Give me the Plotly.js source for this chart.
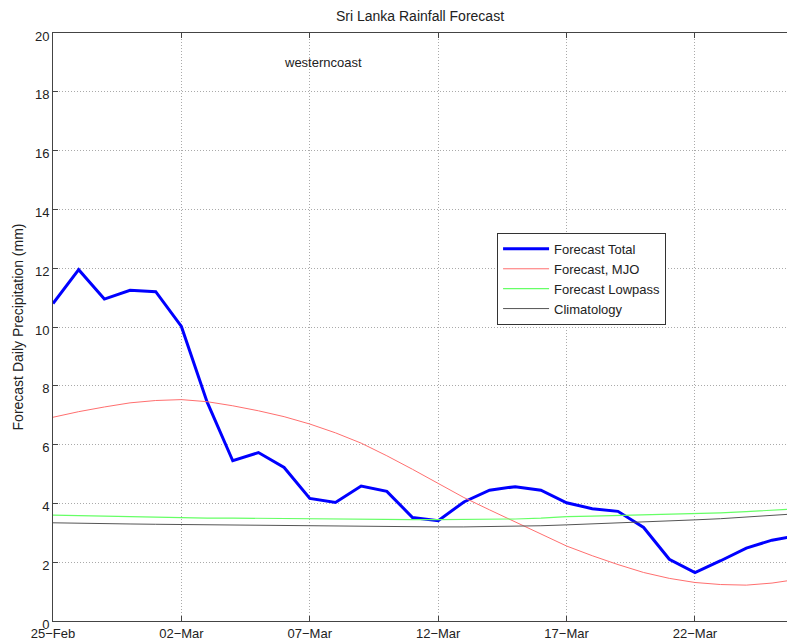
<!DOCTYPE html>
<html>
<head>
<meta charset="utf-8">
<script src="https://cdn.plot.ly/plotly-3.0.1.min.js"></script>
<style>html,body{margin:0;padding:0;background:#fff;}#chart{width:787px;height:640px;}</style>
</head>
<body>
<div id="chart"></div>
<script>
const dates = ['2013-02-25','2013-02-26','2013-02-27','2013-02-28','2013-03-01','2013-03-02','2013-03-03','2013-03-04','2013-03-05','2013-03-06',
  '2013-03-07','2013-03-08','2013-03-09','2013-03-10','2013-03-11','2013-03-12','2013-03-13','2013-03-14','2013-03-15','2013-03-16',
  '2013-03-17','2013-03-18','2013-03-19','2013-03-20','2013-03-21','2013-03-22','2013-03-23','2013-03-24','2013-03-25','2013-03-26'];
const forecastTotal = [10.8,11.95,10.95,11.25,11.2,10.02,7.45,5.45,5.73,5.22,
  4.17,4.03,4.59,4.41,3.52,3.41,4.05,4.45,4.57,4.45,
  4.02,3.82,3.73,3.18,2.1,1.65,2.05,2.48,2.75,2.9];
const forecastMJO = [6.93,7.12,7.28,7.42,7.5,7.53,7.46,7.32,7.15,6.95,
  6.7,6.4,6.05,5.62,5.16,4.68,4.2,3.78,3.37,2.95,
  2.55,2.22,1.92,1.65,1.45,1.31,1.24,1.22,1.29,1.42];
const forecastLowpass = [3.6,3.58,3.56,3.54,3.52,3.51,3.5,3.5,3.49,3.48,
  3.48,3.47,3.46,3.46,3.45,3.45,3.45,3.46,3.47,3.5,
  3.55,3.57,3.59,3.61,3.63,3.65,3.68,3.72,3.77,3.82];
const climatology = [3.34,3.32,3.31,3.3,3.29,3.28,3.27,3.26,3.25,3.24,
  3.23,3.22,3.21,3.21,3.2,3.2,3.2,3.21,3.22,3.24,
  3.27,3.3,3.33,3.36,3.4,3.44,3.48,3.53,3.59,3.65];
const xTickVals = ['2013-02-25','2013-03-02','2013-03-07','2013-03-12','2013-03-17','2013-03-22'];
const xTickText = ['25\u2212Feb','02\u2212Mar','07\u2212Mar','12\u2212Mar','17\u2212Mar','22\u2212Mar'];

const FONT = 'Liberation Sans, Arial, Helvetica, sans-serif';
const traces = [
  {x: dates, y: forecastTotal, name: 'Forecast Total', mode: 'lines', line: {color: '#0000ff', width: 3}},
  {x: dates, y: forecastMJO, name: 'Forecast, MJO', mode: 'lines', line: {color: '#ff6f6f', width: 1}},
  {x: dates, y: forecastLowpass, name: 'Forecast Lowpass', mode: 'lines', line: {color: '#66ff66', width: 1.2}},
  {x: dates, y: climatology, name: 'Climatology', mode: 'lines', line: {color: '#555555', width: 1}}
];
const layout = {
  width: 787, height: 640,
  margin: {l: 53, r: 0, t: 33, b: 19},
  paper_bgcolor: '#fff', plot_bgcolor: '#fff',
  font: {family: FONT, size: 13, color: '#222'},
  title: {text: 'Sri Lanka Rainfall Forecast', font: {family: FONT, size: 14, color: '#222'},
    xref: 'paper', x: 0.5, xanchor: 'center', yref: 'container', y: 0.975, yanchor: 'middle'},
  showlegend: true,
  legend: {x: 0.605, y: 0.66, xanchor: 'left', yanchor: 'top', bgcolor: '#fff', itemwidth: 46,
    bordercolor: '#333', borderwidth: 1, font: {family: FONT, size: 13, color: '#222'}, tracegroupgap: 0},
  xaxis: {type: 'date', range: ['2013-02-25', '2013-03-25 14:00'], tickmode: 'array',
    tickvals: xTickVals, ticktext: xTickText, ticks: 'inside', ticklen: 5, tickcolor: '#444',
    showgrid: true, gridcolor: '#aaaaaa', griddash: '1px,2px', gridwidth: 1,
    showline: true, linecolor: '#444', linewidth: 1, mirror: 'ticks', zeroline: false,
    tickfont: {family: FONT, size: 13, color: '#222'}},
  yaxis: {range: [0, 20], dtick: 2, tick0: 0, ticks: 'inside', ticklen: 5, tickcolor: '#444',
    showgrid: true, gridcolor: '#aaaaaa', griddash: '1px,2px', gridwidth: 1,
    showline: true, linecolor: '#444', linewidth: 1, zeroline: false,
    ticklabelshift: 3,
    tickfont: {family: FONT, size: 13, color: '#222'},
    title: {text: 'Forecast Daily Precipitation (mm)', font: {family: FONT, size: 14, color: '#222'}, standoff: 8}},
  annotations: [{x: '2013-03-07 12:00', y: 19.0, xref: 'x', yref: 'y', text: 'westerncoast',
    showarrow: false, font: {family: FONT, size: 13, color: '#222'}}]
};
Plotly.newPlot('chart', traces, layout, {displayModeBar: false, staticPlot: true});
</script>
</body>
</html>
